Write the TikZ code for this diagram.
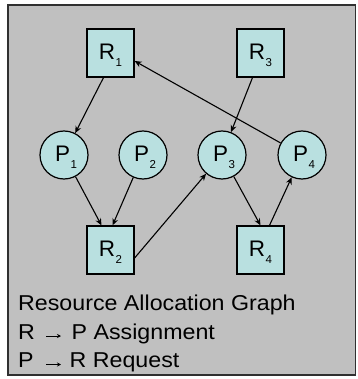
\documentclass[tikz,border=0pt]{standalone}
\usepackage{fontspec}
\setmainfont{Liberation Sans}
\newfontfamily\legendfont{Liberation Sans}[FakeStretch=1.08]
\usetikzlibrary{arrows.meta}
\definecolor{bggray}{HTML}{C0C0C0}
\definecolor{nodefill}{HTML}{B9E0E0}
\definecolor{framec}{HTML}{303030}
\newcommand{\lbl}[3]{\hspace*{#3}#1\hspace{0.5pt}{\fontsize{11.5}{11.5}\selectfont\raisebox{-7pt}[0pt][3pt]{#2}}}
\begin{document}
\begin{tikzpicture}[x=1pt,y=-1pt,
  res/.style={draw=black, line width=1.2pt, fill=nodefill, minimum width=47pt, minimum height=48pt, inner sep=0pt, font=\fontsize{22.5}{22.5}\selectfont},
  proc/.style={draw=black, line width=1.2pt, fill=nodefill, circle, minimum size=48pt, inner sep=0pt, font=\fontsize{22.5}{22.5}\selectfont},
  edge/.style={line width=1.1pt, -{Stealth[length=7pt,width=6pt]}},
  legarrow/.style={line width=0.7pt, -{Stealth[length=4pt,width=4pt]}},
  legend/.style={anchor=base west, inner sep=0pt, font=\legendfont\fontsize{21.5}{21.5}\selectfont}]
\useasboundingbox (0,0) rectangle (357,379);
\fill[white] (0,0) rectangle (357,379);
\draw[draw=framec, line width=1.8pt, fill=bggray] (8,5) rectangle (355.5,375);
\node[res] (R1) at (110.5,53) {\lbl{R}{1}{0pt}};
\node[res] (R3) at (260.5,53) {\lbl{R}{3}{0pt}};
\node[res] (R2) at (110.5,250) {\lbl{R}{2}{0pt}};
\node[res] (R4) at (260.5,250) {\lbl{R}{4}{0pt}};
\node[proc] (P1) at (64,155) {\lbl{P}{1}{4pt}};
\node[proc] (P2) at (143,155) {\lbl{P}{2}{4pt}};
\node[proc] (P3) at (222,155) {\lbl{P}{3}{4pt}};
\node[proc] (P4) at (302,155) {\lbl{P}{4}{4pt}};
\draw[edge] ([xshift=-7pt]R1.south) -- (P1);
\draw[edge] ([xshift=-8pt]R3.south) -- (P3);
\draw[edge] (P4) -- ([yshift=-8pt]R1.east);
\draw[edge] (P1) -- ([xshift=-9pt]R2.north);
\draw[edge] (P2) -- ([xshift=2pt]R2.north);
\draw[edge] ([yshift=-8pt]R2.east) -- (P3);
\draw[edge] (P3) -- (R4.north);
\draw[edge] ([xshift=9pt]R4.north) -- (P4);
\node[legend] (t1) at (18,310) {Resource Allocation Graph};
\node[legend] (t2a) at (18,339) {R};
\coordinate (a2s) at (46,336);
\coordinate (a2e) at (61,336);
\draw[legarrow] (a2s) -- (a2e);
\node[legend] (t2b) at (71.5,339) {P Assignment};
\node[legend] (t3a) at (18,367.5) {P};
\coordinate (a3s) at (46,364.5);
\coordinate (a3e) at (61,364.5);
\draw[legarrow] (a3s) -- (a3e);
\node[legend] (t3b) at (69.5,367.5) {R Request};
\end{tikzpicture}
\end{document}
